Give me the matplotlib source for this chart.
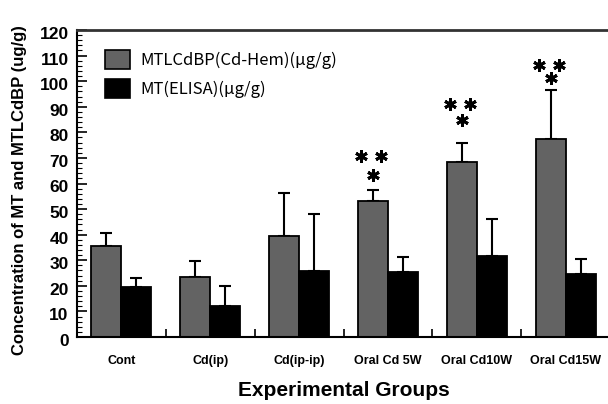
import matplotlib
matplotlib.use("Agg")
import matplotlib.pyplot as plt
import matplotlib.transforms as mtransforms
import numpy as np
from matplotlib.ticker import MultipleLocator
from matplotlib.patches import Patch

categories = ["Cont", "Cd(ip)", "Cd(ip-ip)", "Oral Cd 5W", "Oral Cd10W", "Oral Cd15W"]
mtlcdbp = [35.6, 23.3, 39.6, 53.3, 68.5, 77.4]
mtlcdbp_err = [4.9, 6.3, 16.7, 4.2, 7.3, 19.0]
mt_elisa = [19.7, 12.2, 25.9, 25.3, 31.7, 24.7]
mt_elisa_err = [3.2, 7.6, 22.1, 5.9, 14.3, 5.7]
sig_groups = [3, 4, 5]
sig_upper_y = [70.8, 91.1, 106.3]
sig_lower_y = [63.3, 84.8, 101.1]
legend_labels = ["MTLCdBP(Cd-Hem)(\u03bcg/g)", "MT(ELISA)(\u03bcg/g)"]

main_font = ["Liberation Sans", "DejaVu Sans"]
jp_font = ["Noto Sans CJK JP", "DejaVu Sans"]

fig = plt.figure(figsize=(6.08, 4.04), dpi=100)
ax = fig.add_axes([77/608, 67/404, 533/608, 307/404])

x = np.arange(len(categories))
w = 0.338
ax.bar(x - w/2, mtlcdbp, w, color="#636363", edgecolor="black", linewidth=1.3, zorder=2)
ax.bar(x + w/2, mt_elisa, w, color="black", edgecolor="black", linewidth=1.3, zorder=2)
ax.errorbar(x - w/2, mtlcdbp, yerr=[np.zeros(len(x)), mtlcdbp_err], fmt="none",
            ecolor="black", elinewidth=1.5, capsize=4.5, capthick=1.5, zorder=1)
ax.errorbar(x + w/2, mt_elisa, yerr=[np.zeros(len(x)), mt_elisa_err], fmt="none",
            ecolor="black", elinewidth=1.5, capsize=4.5, capthick=1.5, zorder=1)

# significance asterisks (two above, one below, over the MTLCdBP bar)
sx = np.array([x[i] - w/2 for i in sig_groups])
ast_x = np.concatenate([sx - 0.135, sx + 0.09, sx])
ast_y = np.concatenate([sig_upper_y, sig_upper_y, sig_lower_y])
ax.plot(ast_x, ast_y, linestyle="none", marker=(6, 2, 0), markersize=9,
        markeredgewidth=2.1, color="black", zorder=3)

ax.set_xlim(-0.5, len(categories) - 0.5)
ax.set_ylim(0, 120)
ax.yaxis.set_major_locator(MultipleLocator(10))
ax.yaxis.set_minor_locator(MultipleLocator(2))
ax.set_xticks(x)
ax.set_xticklabels(categories, fontsize=9, fontweight="bold", family=main_font)
ax.set_xticks(np.arange(0.5, len(categories) - 0.5, 1.0), minor=True)
ax.tick_params(axis="x", which="major", length=0, pad=13)
ax.tick_params(axis="x", which="minor", direction="in", length=6, width=1.2)
ax.tick_params(axis="y", which="major", direction="in", length=7, width=1.2, pad=6)
ax.tick_params(axis="y", which="minor", direction="in", length=3.5, width=0.8)
shift = mtransforms.ScaledTranslation(0, -3/100, fig.dpi_scale_trans)
for lab in ax.get_yticklabels():
    lab.set_fontsize(12.5)
    lab.set_fontweight("bold")
    lab.set_family(main_font)
    lab.set_transform(lab.get_transform() + shift)

for s in ["left", "bottom"]:
    ax.spines[s].set_linewidth(1.5)
ax.spines["top"].set_linewidth(2)
ax.spines["top"].set_color("#333333")
ax.spines["right"].set_visible(False)

handles = [Patch(facecolor="#636363", edgecolor="black", linewidth=1.2),
           Patch(facecolor="black", edgecolor="black", linewidth=1.2)]
ax.legend(handles, legend_labels, loc="upper left", bbox_to_anchor=(0.025, 0.985),
          frameon=False, prop={"family": jp_font, "size": 12},
          handlelength=1.5, handleheight=1.45, handletextpad=0.6, labelspacing=0.55)

fig.text(20/608, 1 - 355/404, "Concentration of MT and MTLCdBP (ug/g)", rotation=90,
         ha="center", va="bottom", fontsize=12, fontweight="bold", family=main_font)
fig.text(344/608, 1 - 390/404, "Experimental Groups", ha="center", va="center",
         fontsize=15, fontweight="bold", family=main_font)

fig.savefig("out.png", dpi=100)
